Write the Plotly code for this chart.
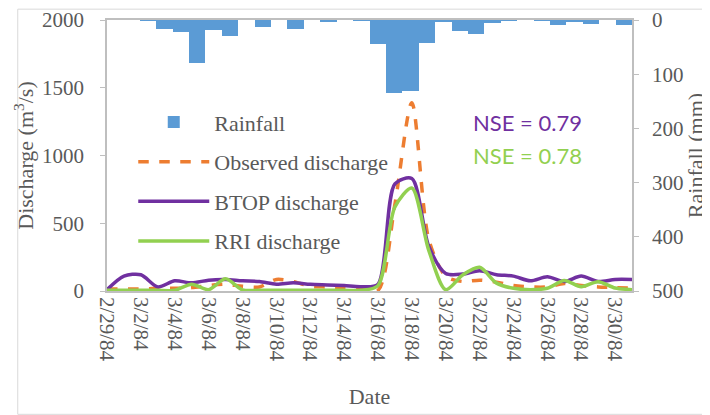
import plotly.graph_objects as go
import pandas as pd

# ---- data ----
dates = [d.strftime("%Y-%m-%d") for d in pd.date_range("1984-02-29", "1984-03-31")]
tick_dates = dates[::2]
tick_labels = [f"{pd.Timestamp(d).month}/{pd.Timestamp(d).day}/84" for d in tick_dates]

rainfall = [0, 0, 1.5, 17, 22, 79, 18, 30, 0, 13.5, 0, 17, 0, 2, 0, 1.5,
            44, 135, 131, 43, 2, 20, 26, 6, 0.5, 0, 1, 10, 4, 8, 0, 9]
observed = [15, 15, 15, 20, 20, 25, 40, 50, 35, 30, 85, 70, 35, 30, 25, 15,
            5, 640, 1390, 380, 110, 70, 80, 65, 40, 30, 30, 55, 40, 30, 25, 20]
btop = [10, 110, 120, 30, 75, 60, 80, 85, 75, 70, 50, 60, 50, 45, 40, 32,
        50, 790, 830, 330, 130, 125, 150, 120, 110, 75, 105, 70, 110, 70, 85, 85]
rri = [5, 5, 5, 5, 5, 50, 10, 90, 8, 5, 5, 5, 5, 5, 5, 5,
       40, 620, 760, 300, 10, 118, 175, 58, 20, 10, 20, 78, 32, 69, 22, 10]

GRAY = "#595959"
AX = "#BFBFBF"
SERIF = "Liberation Serif"
TICK = 21
TITLE = 22

fig = go.Figure()
fig.add_trace(go.Bar(x=dates, y=rainfall, name="Rainfall", marker_color="#5B9BD5",
                     marker_line_width=0, xaxis="x2", yaxis="y2", width=1.0,
                     legendgroup="a"))
fig.add_trace(go.Scatter(x=dates, y=observed, name="Observed discharge", mode="lines",
                         line=dict(color="#ED7D31", width=3.5, dash="dash", shape="spline", smoothing=0.8),
                         legendgroup="b"))
fig.add_trace(go.Scatter(x=dates, y=btop, name="BTOP discharge", mode="lines",
                         line=dict(color="#7030A0", width=3.5, shape="spline", smoothing=0.8),
                         legendgroup="c"))
fig.add_trace(go.Scatter(x=dates, y=rri, name="RRI discharge", mode="lines",
                         line=dict(color="#92D050", width=3.5, shape="spline", smoothing=0.8),
                         legendgroup="d"))

# the page body adds an 8px offset, margins compensate for it
fig.update_layout(
    width=710, height=415,
    margin=dict(l=99, r=86, t=12, b=132),
    paper_bgcolor="white", plot_bgcolor="white",
    font=dict(family=SERIF, size=TICK, color=GRAY),
    bargap=0,
    xaxis=dict(type="date", range=[dates[0], dates[-1]], tickvals=tick_dates, ticktext=tick_labels,
               tickangle=90, showgrid=False, zeroline=False, showline=True, linecolor=AX,
               linewidth=1.5, mirror=True, ticks="", automargin=False,
               title=dict(text="Date", font=dict(size=TITLE, family=SERIF, color=GRAY), standoff=28),
               tickfont=dict(size=TICK, family=SERIF, color=GRAY)),
    xaxis2=dict(type="category", overlaying="x", range=[-0.5, len(dates) - 0.5], visible=False),
    yaxis=dict(range=[0, 2000], tickvals=[0, 500, 1000, 1500, 2000], showgrid=False, zeroline=False,
               showline=True, linecolor=AX, linewidth=1.5, ticks="outside", ticklen=5, tickcolor=AX,
               automargin=False, ticklabelstandoff=12,
               title=dict(text="Discharge (m<sup>3</sup>/s)", font=dict(size=TITLE, family=SERIF, color=GRAY), standoff=2),
               tickfont=dict(size=TICK, family=SERIF, color=GRAY)),
    yaxis2=dict(range=[500, 0], tickvals=[0, 100, 200, 300, 400, 500], overlaying="y", side="right",
                showgrid=False, zeroline=False, showline=True, linecolor=AX, linewidth=1.5,
                ticks="outside", ticklen=5, tickcolor=AX, automargin=False, ticklabelstandoff=9,
                title=dict(text="Rainfall (mm)", font=dict(size=TITLE, family=SERIF, color=GRAY), standoff=2),
                tickfont=dict(size=TICK, family=SERIF, color=GRAY)),
    legend=dict(x=0.05, y=0.70, xanchor="left", yanchor="top", bgcolor="rgba(0,0,0,0)",
                font=dict(size=TITLE, family=SERIF, color=GRAY), traceorder="grouped",
                tracegroupgap=8, itemwidth=71),
    annotations=[
        dict(text="NSE = 0.79", x=0.80, y=0.62, xref="paper", yref="paper", showarrow=False,
             xanchor="center", yanchor="middle",
             font=dict(family="Lato", size=22, color="#7030A0")),
        dict(text="NSE = 0.78", x=0.80, y=0.50, xref="paper", yref="paper", showarrow=False,
             xanchor="center", yanchor="middle",
             font=dict(family="Lato", size=22, color="#92D050")),
    ],
    shapes=[dict(type="rect", xref="paper", yref="paper", x0=-0.17, x1=1.145, y0=-0.455, y1=1.04,
                 line=dict(color="#D9D9D9", width=1), layer="below")],
)

fig.write_html("out.html")
